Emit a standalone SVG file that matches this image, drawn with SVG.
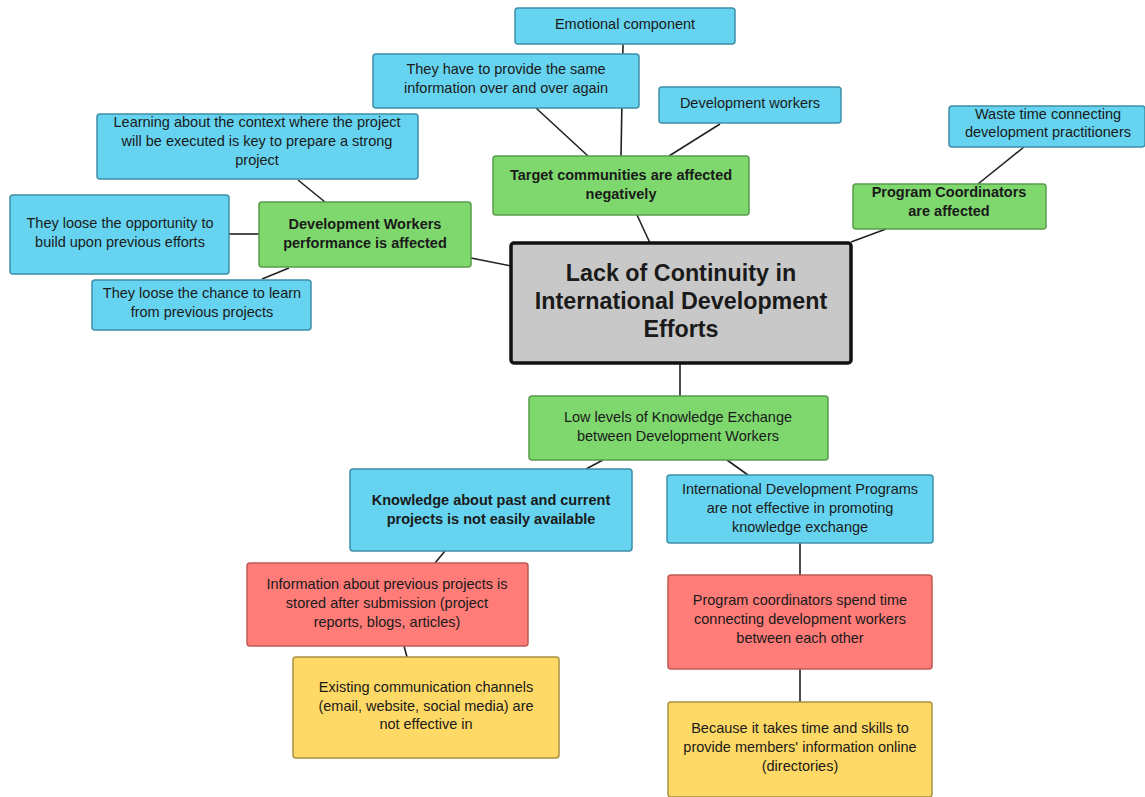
<svg xmlns="http://www.w3.org/2000/svg" width="1145" height="797" viewBox="0 0 1145 797">
<style>
rect{stroke-width:1.5}
.b{fill:#66d4f0;stroke:#3e8ea6}
.g{fill:#7ed86e;stroke:#5a9a4c}
.r{fill:#ff7c78;stroke:#c05a56}
.y{fill:#ffd966;stroke:#a89040}
.c{fill:#c8c8c8;stroke:#111;stroke-width:3.5}
text{font-family:"Liberation Sans",Arial,sans-serif;font-size:14.5px;fill:#1a1a1a;text-anchor:middle}
.bd{font-weight:bold}
.big{font-size:23.3px;font-weight:bold}
#connectors line{stroke:#222;stroke-width:1.6}
</style>
<rect width="1145" height="797" fill="#fff"/>
<g id="connectors">
<line x1="623" y1="44" x2="621" y2="156"/>
<line x1="536" y1="108" x2="588" y2="156"/>
<line x1="720" y1="124" x2="669" y2="156"/>
<line x1="637" y1="215" x2="650" y2="243"/>
<line x1="1024" y1="147" x2="978" y2="184"/>
<line x1="886" y1="229" x2="851" y2="242"/>
<line x1="298" y1="180" x2="325" y2="202"/>
<line x1="229" y1="234" x2="259" y2="234"/>
<line x1="262" y1="279" x2="289" y2="268"/>
<line x1="471" y1="258" x2="511" y2="266"/>
<line x1="680" y1="363" x2="680" y2="396"/>
<line x1="603" y1="460" x2="586" y2="469"/>
<line x1="727" y1="460" x2="748" y2="475"/>
<line x1="445" y1="551" x2="435" y2="563"/>
<line x1="800" y1="543" x2="800" y2="575"/>
<line x1="404" y1="646" x2="407" y2="657"/>
<line x1="800" y1="669" x2="800" y2="702"/>
</g>
<g id="n-emotional"><rect class="b" x="515" y="8" width="220" height="36" rx="3"/><text x="625" y="29">Emotional component</text></g>
<g id="n-same-info"><rect class="b" x="373" y="54" width="266" height="54" rx="3"/><text x="506" y="74">They have to provide the same</text><text x="506" y="93">information over and over again</text></g>
<g id="n-devworkers"><rect class="b" x="659" y="87" width="182" height="36" rx="3"/><text x="750" y="108">Development workers</text></g>
<g id="n-learning"><rect class="b" x="97" y="114" width="321" height="65" rx="3"/><text x="257" y="127">Learning about the context where the project</text><text x="257" y="146">will be executed is key to prepare a strong</text><text x="257" y="165">project</text></g>
<g id="n-target"><rect class="g" x="493" y="156" width="256" height="59" rx="3"/><text class="bd" x="621" y="180">Target communities are affected</text><text class="bd" x="621" y="199">negatively</text></g>
<g id="n-waste"><rect class="b" x="949" y="106" width="196" height="41" rx="3"/><text x="1048" y="119">Waste time connecting</text><text x="1048" y="137">development practitioners</text></g>
<g id="n-progcoord"><rect class="g" x="853" y="184" width="193" height="45" rx="3"/><text class="bd" x="949" y="197">Program Coordinators</text><text class="bd" x="949" y="216">are affected</text></g>
<g id="n-opportunity"><rect class="b" x="10" y="195" width="219" height="79" rx="3"/><text x="120" y="228">They loose the opportunity to</text><text x="120" y="247">build upon previous efforts</text></g>
<g id="n-dwperf"><rect class="g" x="259" y="202" width="212" height="65" rx="3"/><text class="bd" x="365" y="229">Development Workers</text><text class="bd" x="365" y="248">performance is affected</text></g>
<g id="n-chance"><rect class="b" x="92" y="280" width="219" height="50" rx="3"/><text x="202" y="298">They loose the chance to learn</text><text x="202" y="317">from previous projects</text></g>
<g id="n-central"><rect class="c" x="511" y="243" width="340" height="120" rx="3"/><text class="big" x="681" y="281">Lack of Continuity in</text><text class="big" x="681" y="309">International Development</text><text class="big" x="681" y="337">Efforts</text></g>
<g id="n-lowlevels"><rect class="g" x="529" y="396" width="299" height="64" rx="3"/><text x="678" y="422">Low levels of Knowledge Exchange</text><text x="678" y="441">between Development Workers</text></g>
<g id="n-knowledge"><rect class="b" x="350" y="469" width="282" height="82" rx="3"/><text class="bd" x="491" y="505">Knowledge about past and current</text><text class="bd" x="491" y="524">projects is not easily available</text></g>
<g id="n-intlprog"><rect class="b" x="667" y="475" width="266" height="68" rx="3"/><text x="800" y="494">International Development Programs</text><text x="800" y="513">are not effective in promoting</text><text x="800" y="532">knowledge exchange</text></g>
<g id="n-information"><rect class="r" x="247" y="563" width="281" height="83" rx="3"/><text x="387" y="589">Information about previous projects is</text><text x="387" y="608">stored after submission (project</text><text x="387" y="627">reports, blogs, articles)</text></g>
<g id="n-spend"><rect class="r" x="668" y="575" width="264" height="94" rx="3"/><text x="800" y="605">Program coordinators spend time</text><text x="800" y="624">connecting development workers</text><text x="800" y="643">between each other</text></g>
<g id="n-existing"><rect class="y" x="293" y="657" width="266" height="101" rx="3"/><text x="426" y="692">Existing communication channels</text><text x="426" y="711">(email, website, social media) are</text><text x="426" y="729">not effective in</text></g>
<g id="n-because"><rect class="y" x="668" y="702" width="264" height="95" rx="3"/><text x="800" y="733">Because it takes time and skills to</text><text x="800" y="752">provide members' information online</text><text x="800" y="771">(directories)</text></g>
</svg>
